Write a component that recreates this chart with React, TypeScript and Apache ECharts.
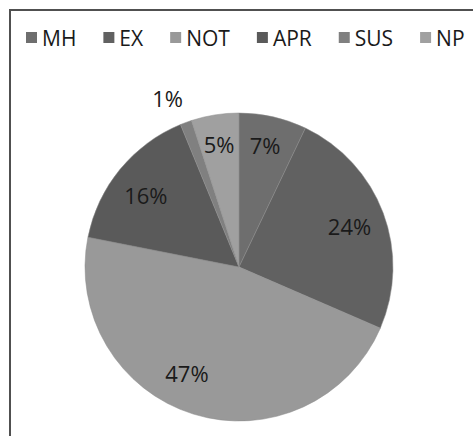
import React, { useEffect, useRef } from "react";
import * as echarts from "echarts";

const categories = ["MH", "EX", "NOT", "APR", "SUS", "NP"];
const values = [7.1, 24.4, 46.6, 15.7, 1.2, 5.0];
const colors = ["#6e6e6e", "#616161", "#999999", "#5a5a5a", "#808080", "#a0a0a0"];
// ring each label sits in
const labelRing = ["top", "outer", "outer", "outer", "out", "top"];
const labelOffsets = [[-2, 2], [0, 0], [-17, -7], [-2, 3], [-8, 4], [0, 2]];

export default function App() {
  const ref = useRef<HTMLDivElement>(null);
  useEffect(() => {
    document.body.style.margin = "0";
    const chart = echarts.init(ref.current!, null, { renderer: "svg" });
    const center = [239, 267];
    const R = 154;
    const labelStyle = {
      color: "#1a1a1a",
      fontSize: 22,
      fontFamily: "Open Sans",
      formatter: "{d}%",
      position: "inside",
    };
    const makeData = (ring: string | null, transparent: boolean) =>
      categories.map((name, i) => ({
        name,
        value: values[i],
        itemStyle: transparent
          ? { color: "rgba(0,0,0,0)", borderWidth: 0 }
          : { color: colors[i] },
        label: {
          show: ring === null ? false : labelRing[i] === ring,
          offset: labelOffsets[i],
        },
      }));
    const common = {
      type: "pie",
      center,
      startAngle: 90,
      clockwise: true,
      percentPrecision: 0,
      avoidLabelOverlap: false,
      labelLine: { show: false },
      emphasis: { disabled: true },
      animation: false,
      label: labelStyle,
    };
    chart.setOption({
      animation: false,
      legend: {
        data: categories,
        left: 21,
        top: 22,
        icon: "rect",
        itemWidth: 11,
        itemHeight: 11,
        itemGap: 27,
        itemStyle: { borderWidth: 0 },
        textStyle: { fontSize: 21, fontFamily: "Open Sans", color: "#1a1a1a" },
        selectedMode: false,
      },
      graphic: [
        {
          type: "rect",
          shape: { x: 10, y: 10, width: 520, height: 500 },
          style: { fill: "none", stroke: "#505050", lineWidth: 2 },
          silent: true,
        },
      ],
      series: [
        {
          ...common,
          name: "main",
          radius: [0, R],
          itemStyle: { borderColor: "#8a8a8a", borderWidth: 0.5 },
          data: makeData(null, false),
        },
        {
          ...common,
          name: "outerLabels",
          radius: [76, R],
          silent: true,
          data: makeData("outer", true),
        },
        {
          ...common,
          name: "topLabels",
          radius: [94, R],
          silent: true,
          data: makeData("top", true),
        },
        {
          ...common,
          name: "outsideLabels",
          radius: [R, 208],
          silent: true,
          data: makeData("out", true),
        },
      ],
    });
    return () => chart.dispose();
  }, []);
  return <div ref={ref} style={{ width: 473, height: 436 }} />;
}
